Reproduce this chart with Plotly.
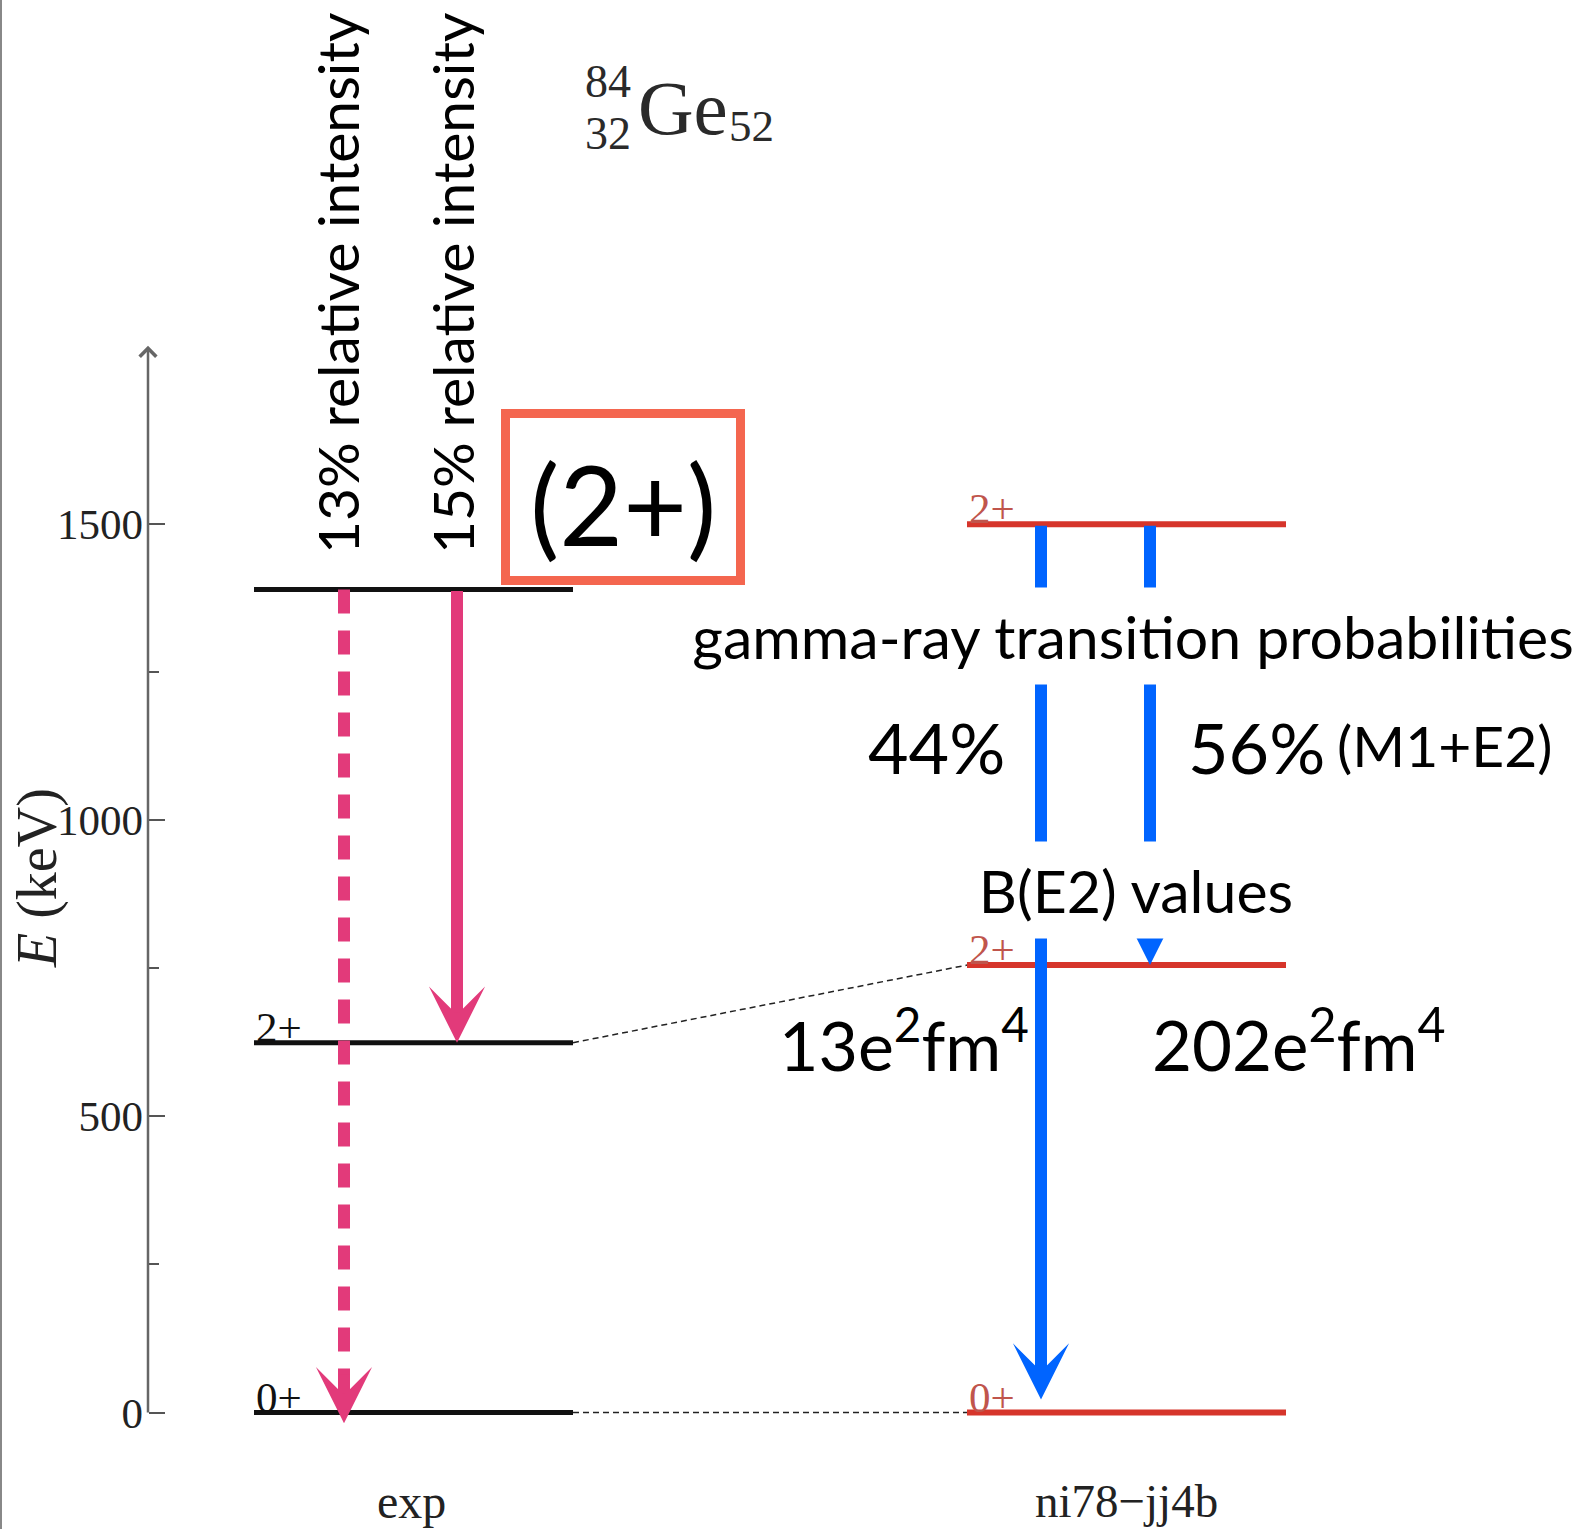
import plotly.graph_objects as go

W, H = 1582, 1529

# ---------------- data ----------------
columns = ["exp", "ni78\u2212jj4b"]
exp_levels = [0, 624, 1389]          # keV
exp_labels = ["0+", "2+", ""]
th_levels = [0, 755, 1499]           # keV
th_labels = ["0+", "2+", "2+"]
y_tickvals = [0, 500, 1000, 1500]
y_minor_vals = [250, 750, 1250]
axis_top = 1800

exp_intensity = ["13% relative intensity", "15% relative intensity"]
th_prob = ["44%", "56%"]
th_be2 = ["13e<sup>2</sup>fm<sup>4</sup>", "202e<sup>2</sup>fm<sup>4</sup>"]

# ---------------- layout helpers (pixel geometry) ----------------
Y0_PX, PX_PER_KEV = 1412.5, 888.9 / 1500.0
E_bot = (Y0_PX - H) / PX_PER_KEV
E_top = Y0_PX / PX_PER_KEV


def py(p):  # pixel row -> paper fraction
    return 1 - p / H


def px(p):
    return p / W


AXIS_X = 148
EXP_X = (254, 573)
TH_X = (967, 1286)
EXP_ARROW_X = [344, 457]
TH_ARROW_X = [1041, 1150]

SANS = "Lato"
SERIF = "Liberation Serif"
PINK = "#E23A7A"
BLUE = "#0064FF"
RED = "#D6352B"

fig = go.Figure()

# level lines
def level_trace(levels, xr, color, width):
    xs, ys = [], []
    for e in levels:
        xs += [xr[0], xr[1], None]
        ys += [e, e, None]
    return go.Scatter(x=xs, y=ys, mode="lines", line=dict(color=color, width=width),
                      hoverinfo="skip", showlegend=False)

fig.add_trace(level_trace(exp_levels, EXP_X, "#111111", 5))
fig.add_trace(level_trace(th_levels, TH_X, RED, 6))

# connectors exp -> theory
for i in [0, 1]:
    fig.add_trace(go.Scatter(x=[EXP_X[1], TH_X[0]], y=[exp_levels[i], th_levels[i]],
                             mode="lines", line=dict(color="#222", width=1.5, dash="6px,4px"),
                             hoverinfo="skip", showlegend=False))

# pink dashed transition (2+) -> 0+
tip_over = 18
fig.add_trace(go.Scatter(x=[EXP_ARROW_X[0], EXP_ARROW_X[0]],
                         y=[exp_levels[2], exp_levels[0] - tip_over + 70],
                         mode="lines", line=dict(color=PINK, width=12, dash="24px,17px"),
                         hoverinfo="skip", showlegend=False))

# y axis line
fig.add_trace(go.Scatter(x=[AXIS_X, AXIS_X], y=[0, axis_top - 10], mode="lines",
                         line=dict(color="#666", width=2.5), hoverinfo="skip", showlegend=False))

ann = []
# axis arrowhead
ann.append(dict(x=AXIS_X, y=axis_top, ax=AXIS_X, ay=axis_top - 60, xref="x", yref="y",
                axref="x", ayref="y", text="", showarrow=True, arrowhead=4, arrowsize=1.6,
                arrowwidth=2, arrowcolor="#666", standoff=0))

def arrow(x, y_from, y_to, color, size=0.78):
    return dict(x=x, y=y_to, ax=x, ay=y_from, xref="x", yref="y", axref="x", ayref="y",
                text="", showarrow=True, arrowhead=3, arrowsize=size, arrowwidth=12,
                arrowcolor=color, standoff=0, startstandoff=0)

# pink arrowhead for dashed line
ann.append(arrow(EXP_ARROW_X[0], exp_levels[0] - tip_over + 85, exp_levels[0] - tip_over, PINK))
# pink solid (2+) -> 2+
ann.append(arrow(EXP_ARROW_X[1], exp_levels[2], exp_levels[1], PINK))
# blue arrows
ann.append(arrow(TH_ARROW_X[0], th_levels[2], th_levels[0] + 22, BLUE))
ann.append(arrow(TH_ARROW_X[1], th_levels[2], th_levels[1], BLUE))

def text(x, y, s, size, family=SANS, color="#000", xanchor="center", yanchor="middle",
         angle=0, **kw):
    d = dict(x=px(x), y=py(y), xref="paper", yref="paper", text=s, showarrow=False,
             font=dict(family=family, size=size, color=color), xanchor=xanchor,
             yanchor=yanchor, textangle=angle)
    d.update(kw)
    return d

# white-box labels over blue arrows
ann.append(text(1133, 636, "gamma-ray transition probabilities", 59, bgcolor="white",
                width=900, height=96, borderpad=0))
ann.append(text(1136, 890, "B(E2) values", 59, bgcolor="white", width=330, height=96,
                borderpad=0))

# percentages and B(E2)
ann.append(text(1007, 747, th_prob[0], 70, xanchor="right"))
ann.append(text(1186, 747, th_prob[1], 70, xanchor="left"))
ann.append(text(1335, 745, "(M1+E2)", 57, xanchor="left"))
ann.append(text(1031, 1040, th_be2[0], 68, xanchor="right"))
ann.append(text(1150, 1040, th_be2[1], 69, xanchor="left"))

# vertical intensity texts
ann.append(text(337, 284, exp_intensity[0], 57, angle=-90))
ann.append(text(452, 284, exp_intensity[1], 57, angle=-90))

# (2+) box text
ann.append(text(623, 503, "(2+)", 110))

# nucleus label
ann.append(text(608, 82, "84", 46, family=SERIF, color="#2a2a2a"))
ann.append(text(608, 134, "32", 46, family=SERIF, color="#2a2a2a"))
ann.append(text(636, 108, "Ge", 77, family=SERIF, color="#2a2a2a", xanchor="left"))
ann.append(text(727, 126, "52", 45, family=SERIF, color="#2a2a2a", xanchor="left"))

# axis title
ann.append(text(37, 878, "<i>E</i> (keV)", 56, family=SERIF, color="#222", angle=-90))

# column labels
ann.append(text(sum(EXP_X) / 2 - 2, 1501, columns[0], 48, family=SERIF, color="#222"))
ann.append(text(sum(TH_X) / 2, 1501, columns[1], 47, family=SERIF, color="#222"))

# level labels
for e, lab in zip(exp_levels, exp_labels):
    if lab:
        ann.append(dict(x=EXP_X[0], y=e, xref="x", yref="y", text=lab, showarrow=False,
                        font=dict(family=SERIF, size=43, color="#111"), xanchor="left",
                        yanchor="bottom", yshift=-10))
for e, lab in zip(th_levels, th_labels):
    ann.append(dict(x=TH_X[0], y=e, xref="x", yref="y", text=lab, showarrow=False,
                    font=dict(family=SERIF, size=43, color="#C0554C"), xanchor="left",
                    yanchor="bottom", yshift=-10))

shapes = [
    dict(type="rect", xref="paper", yref="paper", x0=px(505.5), x1=px(740.5),
         y0=py(580.5), y1=py(413.5), line=dict(color="#F4664F", width=9), layer="above"),
    dict(type="line", xref="paper", yref="paper", x0=px(1), x1=px(1), y0=0, y1=1,
         line=dict(color="#888", width=2)),
]

fig.update_layout(
    width=W, height=H, autosize=False,
    margin=dict(l=0, r=0, t=0, b=0, pad=0),
    paper_bgcolor="white", plot_bgcolor="white",
    xaxis=dict(range=[0, W], visible=False, fixedrange=True),
    yaxis=dict(range=[E_bot, E_top], anchor="free", position=AXIS_X / W,
               showline=False, showgrid=False, zeroline=False,
               tickmode="array", tickvals=y_tickvals, ticks="inside", ticklen=16,
               tickwidth=2, tickcolor="#555", ticklabelstandoff=5,
               tickfont=dict(family=SERIF, size=43, color="#222"),
               minor=dict(tickmode="array", tickvals=y_minor_vals, ticks="inside",
                          ticklen=10, tickwidth=2, tickcolor="#555", showgrid=False),
               fixedrange=True),
    annotations=ann, shapes=shapes, showlegend=False,
)

fig.write_html("out.html", config={"displayModeBar": False},
               post_script="document.body.style.margin='0px';")
